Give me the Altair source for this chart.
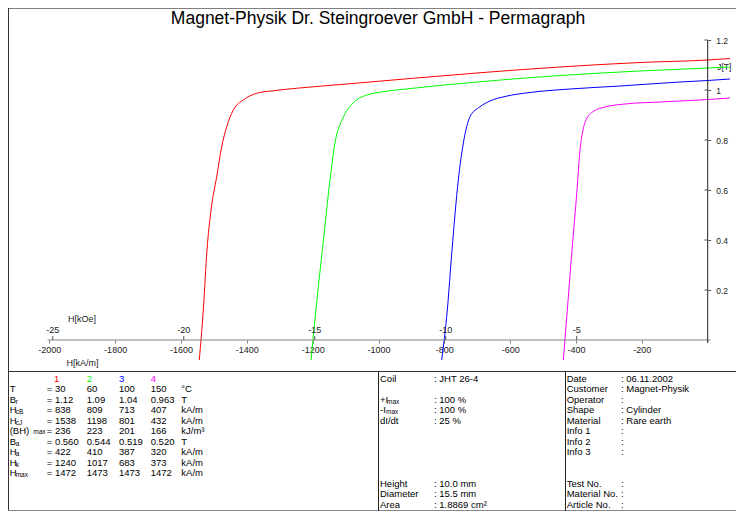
import math
import altair as alt
import pandas as pd

FONT = "Liberation Sans"
TITLE = "Magnet-Physik Dr. Steingroever GmbH - Permagraph"

# ---- demagnetisation curves J(H), H in kA/m, J in T ----
series_names = ["1", "2", "3", "4"]
series_colors = ["#ff0000", "#00ff00", "#0000ff", "#ff00ff"]

red_H = [-1544.4, -1532.2, -1521.0, -1508.8, -1491.5, -1476.3, -1461.1, -1441.1, -1410.7,
         -1370.0, -1319.6, -1248.5, -1096.6, -894.3, -691.7, -448.7, -205.7, 0.0, 67.7]
red_J = [-0.08, 0.12, 0.36, 0.52, 0.653, 0.773, 0.853, 0.92, 0.96,
         0.987, 0.997, 1.007, 1.024, 1.047, 1.069, 1.092, 1.11, 1.12, 1.126]

green_H = [-1205.0, -1183.8, -1165.6, -1147.4, -1132.2, -1107.9, -1077.5, -1035.0, -995.4,
           -895.2, -691.7, -448.7, -205.7, 0.0, 67.7]
green_J = [-0.08, 0.2, 0.42, 0.64, 0.788, 0.888, 0.948, 0.98, 0.991,
           1.007, 1.033, 1.058, 1.076, 1.088, 1.092]

blue_H = [-808.0, -791.0, -776.7, -757.6, -742.4, -722.0, -691.7, -661.3, -615.7,
          -539.8, -418.3, -266.4, -84.1, 0.0, 67.7]
blue_J = [-0.08, 0.12, 0.36, 0.64, 0.787, 0.893, 0.933, 0.956, 0.974,
          0.99, 1.004, 1.016, 1.032, 1.038, 1.044]

magenta_H = [-438.6, -426.5, -412.2, -397.0, -387.9, -378.8, -366.6, -345.4, -312.0,
             -251.2, -144.9, 0.0, 67.7]
magenta_J = [-0.08, 0.12, 0.36, 0.6, 0.76, 0.84, 0.888, 0.916, 0.932,
             0.944, 0.952, 0.962, 0.968]

# ---- axes ----
h_ticks = [-2000, -1800, -1600, -1400, -1200, -1000, -800, -600, -400, -200]
j_ticks = [0.2, 0.4, 0.6, 0.8, 1.0, 1.2]
koe_ticks = [-25, -20, -15, -10, -5]
h_axis_span = [-2005, 8]
j_axis_span = [-0.012, 1.2]

# ---- parameter table ----
param_main = ["T", "B", "H", "H", "(BH)", "B", "H", "H", "H"]
param_sub = ["", "r", "cB", "cJ", "max", "a", "a", "k", "max"]
vals_1 = ["30", "1.12", "838", "1538", "236", "0.560", "422", "1240", "1472"]
vals_2 = ["60", "1.09", "809", "1198", "223", "0.544", "410", "1017", "1473"]
vals_3 = ["100", "1.04", "713", "801", "201", "0.519", "387", "683", "1473"]
vals_4 = ["150", "0.963", "407", "432", "166", "0.520", "320", "373", "1472"]
units = ["°C", "T", "kA/m", "kA/m", "kJ/m³", "T", "kA/m", "kA/m", "kA/m"]

mid_labels = ["Coil", "+I", "-I", "dI/dt", "Height", "Diameter", "Area"]
mid_sub = ["", "max", "max", "", "", "", ""]
mid_values = ["JHT 26-4", "100 %", "100 %", "25 %", "10.0 mm", "15.5 mm", "1.8869 cm²"]
mid_rows = [0, 2, 3, 4, 10, 11, 12]

right_labels = ["Date", "Customer", "Operator", "Shape", "Material", "Info 1", "Info 2",
                "Info 3", "Test No.", "Material No.", "Article No."]
right_values = ["06.11.2002", "Magnet-Physik", "", "Cylinder", "Rare earth", "", "", "",
                "", "", ""]
right_rows = [0, 1, 2, 3, 4, 5, 6, 7, 10, 11, 12]

# ================= layout (pixels inside the chart) =================
W, H = 728, 503          # whole chart = frame (fits the 744x520 page with its margins)
PLOT_H = 363             # upper (graph) part of the frame
COL2_X, COL3_X = 370, 557  # table column dividers
X0_PX = 699.7            # H = 0 position
PX_PER_H = 0.3292        # pixels per kA/m

xscale = alt.Scale(domain=[-2000 - (X0_PX - 2000 * PX_PER_H) / PX_PER_H,
                           (W - X0_PX) / PX_PER_H], nice=False, zero=False)
yscale = alt.Scale(domain=[-0.124, 1.328], range=[PLOT_H, 0], nice=False, zero=False)

rows = []
for name, hs, js in zip(series_names, [red_H, green_H, blue_H, magenta_H],
                        [red_J, green_J, blue_J, magenta_J]):
    for i, (h, j) in enumerate(zip(hs, js)):
        rows.append({"curve": name, "H": h, "J": j, "i": i})
curve_df = pd.DataFrame(rows)

x_axis = alt.Axis(values=h_ticks, orient="bottom", offset=-(H - 332), domain=False,
                  grid=False, tickSize=3, tickColor="#808080", labelFontSize=9,
                  labelFont=FONT, labelColor="#222", labelPadding=2,
                  labelExpr="'' + datum.value", labelFlush=False, labelOverlap=False,
                  title="H[kA/m]", titleFont=FONT, titleFontSize=9, titleFontWeight="normal",
                  titleColor="#222", titleX=58, titleY=22, titleAlign="left",
                  titleBaseline="middle")
y_axis = alt.Axis(values=j_ticks, orient="right", offset=-(W - X0_PX), domain=False,
                  grid=False, tickSize=3, tickColor="#555", labelFontSize=8.5,
                  labelFont=FONT, labelColor="#222", labelPadding=5,
                  labelExpr="'' + datum.value", labelFlush=False, labelOverlap=False,
                  title="J[T]", titleFont=FONT, titleFontSize=8.5, titleFontWeight="normal",
                  titleColor="#222", titleAngle=0, titleX=9, titleY=58, titleAlign="left",
                  titleBaseline="middle")

curves = alt.Chart(curve_df).mark_line(strokeWidth=1, clip=False,
                                       interpolate="monotone").encode(
    x=alt.X("H:Q", scale=xscale, axis=x_axis),
    y=alt.Y("J:Q", scale=yscale, axis=y_axis),
    color=alt.Color("curve:N", scale=alt.Scale(domain=series_names, range=series_colors),
                    legend=None),
    order="i:Q",
)

haxis_df = pd.DataFrame({"H": [h_axis_span[0]], "H2": [h_axis_span[1]], "J": [0.0]})
haxis_line = alt.Chart(haxis_df).mark_rule(color="#808080", strokeWidth=1).encode(
    x=alt.X("H:Q", scale=xscale), x2="H2:Q",
    y=alt.Y("J:Q", scale=yscale, axis=None))

jaxis_df = pd.DataFrame({"H": [0.0], "J": [j_axis_span[0]], "J2": [j_axis_span[1]]})
jaxis_line = alt.Chart(jaxis_df).mark_rule(color="#222", strokeWidth=1).encode(
    x=alt.X("H:Q", scale=xscale),
    y=alt.Y("J:Q", scale=yscale, axis=None), y2="J2:Q")

# inner half of the J ticks (they cross the axis line)
jtick_df = pd.DataFrame({"J": j_ticks})
jtick_df["H"] = -10.0
jtick_df["H2"] = 0.0
jtick_inner = alt.Chart(jtick_df).mark_rule(color="#555", strokeWidth=1).encode(
    x=alt.X("H:Q", scale=xscale), x2="H2:Q",
    y=alt.Y("J:Q", scale=yscale, axis=None))

koe_df = pd.DataFrame({"kOe": koe_ticks})
koe_df["H"] = koe_df["kOe"] * 1000.0 / (4 * math.pi)
koe_df["J"] = 0.0
koe_df["J2"] = 0.016
koe_df["label"] = koe_df["kOe"].astype(str)
koe_tick_marks = alt.Chart(koe_df).mark_rule(color="#555", strokeWidth=1).encode(
    x=alt.X("H:Q", scale=xscale),
    y=alt.Y("J:Q", scale=yscale, axis=None), y2="J2:Q")
koe_labels = alt.Chart(koe_df).mark_text(font=FONT, fontSize=9, color="#222",
                                          baseline="middle", align="center", dy=-10).encode(
    x=alt.X("H:Q", scale=xscale),
    y=alt.Y("J:Q", scale=yscale, axis=None), text="label:N")

koe_title = alt.Chart(pd.DataFrame({"t": ["H[kOe]"]})).mark_text(
    font=FONT, fontSize=9, color="#222", align="left", baseline="middle").encode(
    x=alt.value(60), y=alt.value(311), text="t:N")

title = alt.Chart(pd.DataFrame({"t": [TITLE]})).mark_text(
    font=FONT, fontSize=17.5, color="#000", align="center", baseline="middle").encode(
    x=alt.value(370), y=alt.value(11), text="t:N")

# frame lines
one = pd.DataFrame({"k": [0]})
top_line = alt.Chart(one).mark_rule(color="#808080", strokeWidth=1).encode(
    x=alt.value(0), x2=alt.value(W), y=alt.value(0.5))
left_line = alt.Chart(one).mark_rule(color="#333", strokeWidth=1).encode(
    x=alt.value(0.5), y=alt.value(0), y2=alt.value(H))
bottom_line = alt.Chart(one).mark_rule(color="#888", strokeWidth=1).encode(
    x=alt.value(0), x2=alt.value(W), y=alt.value(H - 0.5))
div_h = alt.Chart(one).mark_rule(color="#333", strokeWidth=1).encode(
    x=alt.value(0), x2=alt.value(W), y=alt.value(PLOT_H + 0.5))
div_v = alt.Chart(pd.DataFrame({"xp": [COL2_X + 0.5, COL3_X + 0.5]})).mark_rule(
    color="#222", strokeWidth=1).encode(
    x=alt.X("xp:Q", scale=None), y=alt.value(PLOT_H), y2=alt.value(H))

# ================= table =================
FS = 9.5
ROW0, STEP = PLOT_H + 7.5, 10.5
row_scale = alt.Scale(domain=[0, 12], range=[ROW0, ROW0 + STEP * 12], nice=False, zero=False)


def txt(df, field, x, color="#000", size=FS, dy=0, filt=None):
    ch = alt.Chart(df)
    if filt is not None:
        ch = ch.transform_filter(filt)
    return ch.mark_text(font=FONT, fontSize=size, color=color, align="left",
                        baseline="middle", dy=dy).encode(
        x=alt.value(x),
        y=alt.Y("row:Q", scale=row_scale, axis=None),
        text=alt.Text(f"{field}:N"))


left_df = pd.DataFrame({
    "row": list(range(1, 10)), "main": param_main, "sub": param_sub,
    "v1": ["= " + v for v in vals_1], "v2": vals_2, "v3": vals_3, "v4": vals_4,
    "unit": units,
})
head_df = pd.DataFrame({"row": [0], "h1": [series_names[0]], "h2": [series_names[1]],
                        "h3": [series_names[2]], "h4": [series_names[3]]})
col_x = [46, 78.7, 111, 142.7]
left_layers = [
    txt(head_df, "h1", col_x[0], series_colors[0]),
    txt(head_df, "h2", col_x[1], series_colors[1]),
    txt(head_df, "h3", col_x[2], series_colors[2]),
    txt(head_df, "h4", col_x[3], series_colors[3]),
    txt(left_df, "main", 1.7),
    txt(left_df, "sub", 7.7, size=6.5, dy=2, filt="datum.main != '(BH)'"),
    txt(left_df, "sub", 25.3, size=6.5, dy=1, filt="datum.main == '(BH)'"),
    txt(left_df, "v1", 38.7),
    txt(left_df, "v2", col_x[1]),
    txt(left_df, "v3", col_x[2]),
    txt(left_df, "v4", col_x[3]),
    txt(left_df, "unit", 173.3),
]

mid_df = pd.DataFrame({"row": mid_rows, "label": mid_labels, "sub": mid_sub,
                       "val": [": " + v for v in mid_values]})
mid_layers = [
    txt(mid_df, "label", COL2_X + 2),
    txt(mid_df, "sub", COL2_X + 9, size=6.5, dy=2, filt="datum.label == '+I'"),
    txt(mid_df, "sub", COL2_X + 8, size=6.5, dy=2, filt="datum.label == '-I'"),
    txt(mid_df, "val", COL2_X + 56),
]

right_df = pd.DataFrame({"row": right_rows, "label": right_labels,
                         "val": [(": " + v) if v else ":" for v in right_values]})
right_layers = [
    txt(right_df, "label", COL3_X + 1.7),
    txt(right_df, "val", COL3_X + 56),
]

chart = alt.layer(
    curves, haxis_line, jaxis_line, jtick_inner, koe_tick_marks, koe_labels, koe_title,
    title, top_line, left_line, bottom_line, div_h, div_v,
    *left_layers, *mid_layers, *right_layers,
).resolve_scale(y="independent").properties(
    width=W, height=H,
    padding={"left": 0, "top": 0, "right": 0, "bottom": 0},
    autosize=alt.AutoSizeParams(type="none"),
).configure_view(stroke=None).configure(background="white")

chart.save("out.html", embed_options={"renderer": "svg", "actions": False})
